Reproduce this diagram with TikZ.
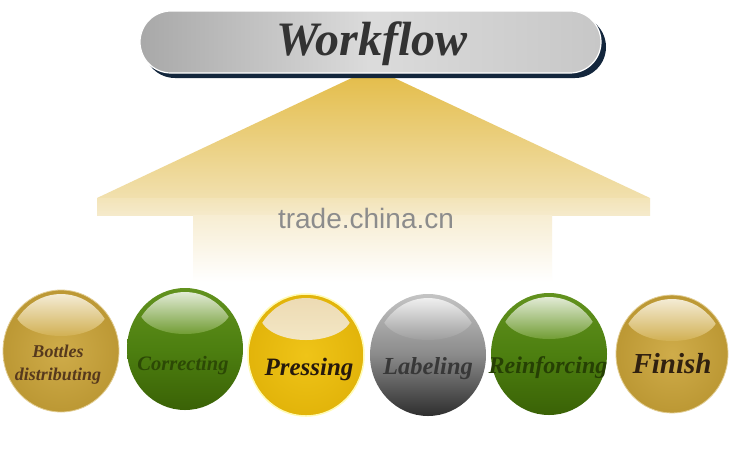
\documentclass[tikz,border=0pt]{standalone}
\usepackage{fontspec}
\setmainfont{Liberation Serif}
\newfontfamily\wmfont{Liberation Sans}
\usetikzlibrary{shapes.geometric}
\definecolor{goldin}{HTML}{CFAC4A}
\definecolor{goldout}{HTML}{BC9834}
\definecolor{greentop}{HTML}{62921E}
\definecolor{greenmid}{HTML}{4D7F10}
\definecolor{greenbot}{HTML}{3A6206}
\definecolor{yelin}{HTML}{EFC418}
\definecolor{yelout}{HTML}{E2B40A}
\definecolor{graytop}{HTML}{C4C4C4}
\definecolor{graymid}{HTML}{8A8A8A}
\definecolor{graybot}{HTML}{2E2E2E}
\definecolor{navy}{HTML}{13263C}
\definecolor{rooftop}{HTML}{E3BB45}
\definecolor{roofbot}{HTML}{F1E0AE}
\definecolor{bandtop}{HTML}{F3E4B8}
\definecolor{bandbot}{HTML}{F5EACB}
\definecolor{stemtop}{HTML}{F7EDD2}
\tikzset{
  ball/.style={ellipse, minimum width=116pt, minimum height=122pt, inner sep=0pt},
  goldball/.style={ball, inner color=goldin, outer color=goldout, draw=goldin!60!white, line width=0.8pt},
  greenball/.style={ball, top color=greentop, bottom color=greenbot, middle color=greenmid},
  yelball/.style={ball, inner color=yelin, outer color=yelout, draw=yellow!30!white, line width=1.5pt},
  grayball/.style={ball, top color=graytop, bottom color=graybot, middle color=graymid},
  steplabel/.style={inner sep=0pt, align=center},
}
% gloss cap: #1 cx, #2 cy, #3 top colour, #4 bottom colour
\newcommand\glosscap[4]{%
  \begin{scope}
    \clip (#1,#2) ellipse [x radius=53, y radius=57];
    \shade[top color=#3, bottom color=#4] ([yshift=40pt]#1,#2) ellipse [x radius=46, y radius=25];
  \end{scope}}
\begin{document}
\begin{tikzpicture}[x=1pt, y=-1pt]
\useasboundingbox (0,0) rectangle (731,456);
\fill[white] (0,0) rectangle (731,456);

% roof arrow
\shade[top color=rooftop, bottom color=roofbot] (97,198) -- (373,68) -- (650,198) -- cycle;
\shade[top color=bandtop, bottom color=bandbot] (97,198) rectangle (650,215);
\shade[top color=stemtop, bottom color=white] (193,215) rectangle (552,282);

\node[font=\wmfont\fontsize{28}{30}\selectfont, text=black!45] (wm) at (366,218) {trade.china.cn};

% banner
\fill[navy, rounded corners=31pt] (144,16) rectangle (606,78);
\shade[left color=black!34, right color=black!22, middle color=black!14, draw=white, line width=1.2pt, rounded corners=31pt] (140,11) rectangle (601,73);
\node[font=\bfseries\itshape\fontsize{48}{50}\selectfont, text=black!80] (title) at (372,44) {Workflow};

% balls
\node[goldball] (b1) at (61,351) {};
\node[greenball] (b2) at (185,349) {};
\node[yelball] (b3) at (306,355) {};
\node[grayball] (b4) at (428,355) {};
\node[greenball] (b5) at (549,354) {};
\node[goldball, minimum width=112pt, minimum height=118pt] (b6) at (672,354) {};

\glosscap{61}{351}{white!90!goldin}{goldin!95!white}
\glosscap{185}{349}{white!95!greentop}{greentop!90!white}
\glosscap{306}{355}{white!88!yellow!70!brown}{yellow!30!brown!28!white}
\glosscap{428}{355}{white}{graytop!80!black}
\glosscap{549}{354}{white!95!greentop}{greentop!90!white}
\glosscap{672}{356}{white!90!goldin}{goldin!95!white}

\node[steplabel, font=\bfseries\itshape\fontsize{18}{23}\selectfont, text=brown!45!black] (t1) at (58,365) {Bottles\\distributing};
\node[steplabel, font=\bfseries\itshape\fontsize{20.5}{22}\selectfont, text=greenbot!75!black] (t2) at (183,366) {Correcting};
\node[steplabel, font=\bfseries\itshape\fontsize{25}{27}\selectfont, text=black!80!brown] (t3) at (309,369) {Pressing};
\node[steplabel, font=\bfseries\itshape\fontsize{24.5}{26}\selectfont, text=black!78] (t4) at (428,369) {Labeling};
\node[steplabel, font=\bfseries\itshape\fontsize{24}{26}\selectfont, text=greenbot!65!black] (t5) at (548,368) {Reinforcing};
\node[steplabel, font=\bfseries\itshape\fontsize{29}{31}\selectfont, text=black!75!brown] (t6) at (672,364) {Finish};
\end{tikzpicture}
\end{document}
